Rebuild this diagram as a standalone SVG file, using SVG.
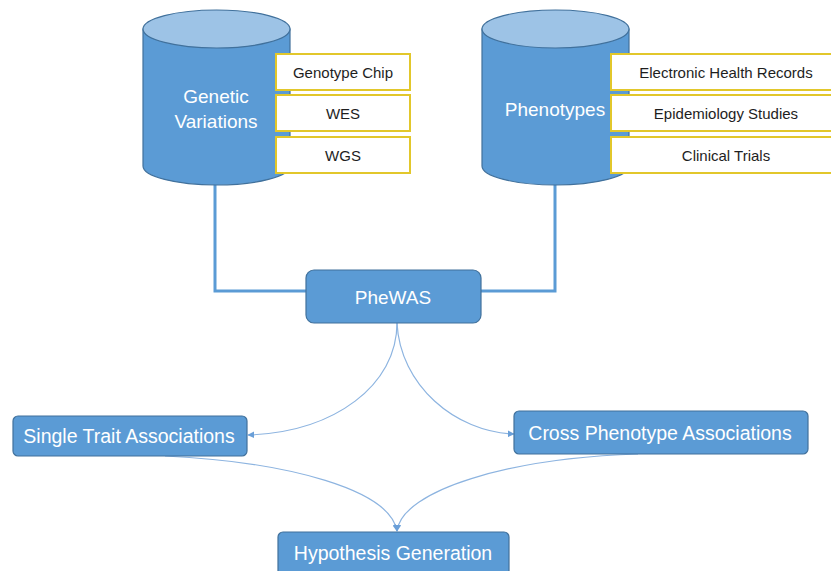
<svg xmlns="http://www.w3.org/2000/svg" width="831" height="571" viewBox="0 0 831 571">
<defs>
<style>
.cyl{fill:#5b9bd5;stroke:#41719c;stroke-width:1.2}
.cyltop{fill:#9dc3e6;stroke:#41719c;stroke-width:1.2}
.src{fill:#fff;stroke:#e2c72b;stroke-width:2}
.node{fill:#5b9bd5;stroke:#41719c;stroke-width:1.2}
.wt{fill:#fff;font-family:"Liberation Sans",Arial,sans-serif;text-anchor:middle}
.dk{fill:#1e1e1e;font-family:"Liberation Sans",Arial,sans-serif;font-size:15px;text-anchor:middle}
.thick{fill:none;stroke:#5b9bd5;stroke-width:3}
.thin{fill:none;stroke:#8db4e0;stroke-width:1.2}
</style>
<marker id="ah" viewBox="0 0 10 10" refX="9" refY="5" markerWidth="7" markerHeight="7" orient="auto" markerUnits="userSpaceOnUse">
<path d="M0,0 L10,5 L0,10 Z" fill="#6a9fd8"/>
</marker>
</defs>
<rect width="831" height="571" fill="#fff"/>
<g id="connectors">
<path class="thick" d="M215,182 V291 H306"/>
<path class="thick" d="M555,182 V291 H481"/>
<path class="thin" d="M397,323 C397,385 335,432 248,435" marker-end="url(#ah)"/>
<path class="thin" d="M397,323 C400,385 455,432 514,434" marker-end="url(#ah)"/>
<path class="thin" d="M165,456 C290,462 390,490 397,531" marker-end="url(#ah)"/>
<path class="thin" d="M638,454 C510,458 402,490 397,531" marker-end="url(#ah)"/>
</g>
<g id="genetic-variations">
<path class="cyl" d="M143,29 V166 A73.5,19 0 0 0 290,166 V29 Z"/>
<ellipse class="cyltop" cx="216.5" cy="29" rx="73.5" ry="19"/>
<text class="wt" x="216" y="103" font-size="19">Genetic</text>
<text class="wt" x="216" y="128" font-size="19">Variations</text>
</g>
<g id="genotype-chip"><rect class="src" x="276" y="54" width="134" height="36"/><text class="dk" x="343" y="78">Genotype Chip</text></g>
<g id="wes"><rect class="src" x="276" y="95" width="134" height="36"/><text class="dk" x="343" y="119">WES</text></g>
<g id="wgs"><rect class="src" x="276" y="137" width="134" height="36"/><text class="dk" x="343" y="161">WGS</text></g>
<g id="phenotypes">
<path class="cyl" d="M482,29 V166 A73.5,19 0 0 0 629,166 V29 Z"/>
<ellipse class="cyltop" cx="555.5" cy="29" rx="73.5" ry="19"/>
<text class="wt" x="555" y="116" font-size="19">Phenotypes</text>
</g>
<g id="ehr"><rect class="src" x="611" y="54" width="224" height="36"/><text class="dk" x="726" y="78">Electronic Health Records</text></g>
<g id="epi"><rect class="src" x="611" y="95" width="224" height="36"/><text class="dk" x="726" y="119">Epidemiology Studies</text></g>
<g id="clinical"><rect class="src" x="611" y="137" width="224" height="36"/><text class="dk" x="726" y="161">Clinical Trials</text></g>
<g id="phewas">
<rect class="node" x="306" y="270" width="175" height="53" rx="8"/>
<text class="wt" x="393" y="304" font-size="19">PheWAS</text>
</g>
<g id="single-trait">
<rect class="node" x="13" y="416" width="234" height="40" rx="5"/>
<text class="wt" x="129" y="443" font-size="19.5">Single Trait Associations</text>
</g>
<g id="cross-phenotype">
<rect class="node" x="514" y="411" width="294" height="43" rx="5"/>
<text class="wt" x="660" y="440" font-size="19.5">Cross Phenotype Associations</text>
</g>
<g id="hypothesis">
<rect class="node" x="278" y="532" width="231" height="45" rx="5"/>
<text class="wt" x="393" y="560" font-size="19.5">Hypothesis Generation</text>
</g>
</svg>
